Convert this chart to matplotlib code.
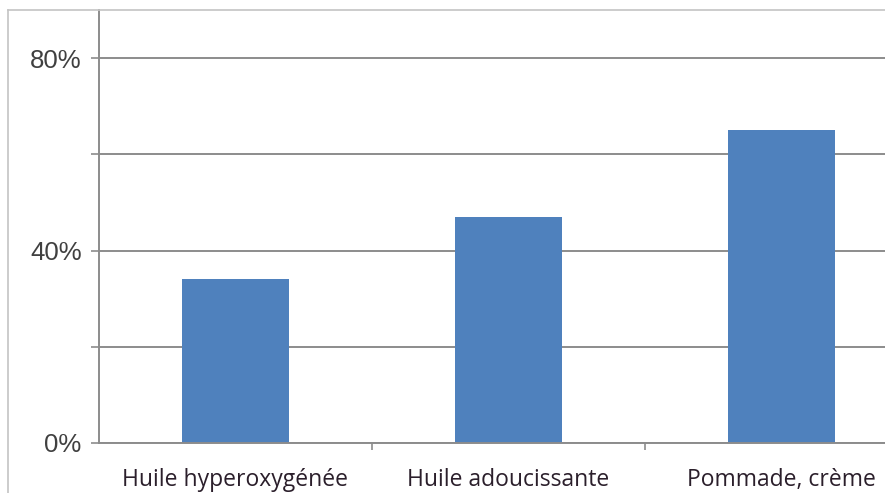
import matplotlib
matplotlib.use("Agg")
import matplotlib.pyplot as plt
from matplotlib.lines import Line2D

categories = ["Huile hyperoxygénée", "Huile adoucissante", "Pommade, crème"]
values = [34, 47, 65]
y_ticks = [0, 20, 40, 60, 80]
y_tick_labels = ["0%", "", "40%", "", "80%"]

W, H = 885, 493
fig = plt.figure(figsize=(W / 100, H / 100), dpi=100)

# plot area extends slightly past the right edge of the canvas
left_px, right_px, bottom_px, top_px = 99, 918, 443, 10
ax = fig.add_axes([left_px / W, (H - bottom_px) / H,
                   (right_px - left_px) / W, (bottom_px - top_px) / H])

xs = list(range(len(categories)))
ax.bar(xs, values, width=0.395, color="#4f81bd", zorder=3)

ax.set_xlim(-0.5, 2.5)
ax.set_ylim(0, 90)

ax.set_yticks(y_ticks)
ax.set_yticklabels(y_tick_labels)
ax.yaxis.grid(True, color="#8c8c8c", linewidth=1.4, zorder=0)
ax.tick_params(axis="y", length=5.5, width=1.2, color="#8c8c8c", pad=7,
               labelsize=18.5, labelcolor="#404040")
for t in ax.get_yticklabels():
    t.set_fontfamily("Liberation Sans")

ax.set_xticks(xs)
ax.set_xticklabels(categories)
ax.set_xticks([0.5, 1.5, 2.5], minor=True)
ax.tick_params(axis="x", which="major", length=0, pad=18,
               labelsize=16.5, labelcolor="#2b1f2b")
ax.tick_params(axis="x", which="minor", length=5, width=1.2, color="#8c8c8c",
               direction="out")
for t in ax.get_xticklabels():
    t.set_fontfamily("Open Sans")

for side in ("top", "right"):
    ax.spines[side].set_visible(False)
for side in ("left", "bottom"):
    ax.spines[side].set_color("#8c8c8c")
    ax.spines[side].set_linewidth(1.4)
    ax.spines[side].set_zorder(4)

# outer chart-area border (top and left edges)
fx, fy = 8 / W, (H - 10) / H
fig.add_artist(Line2D([fx, 1.0], [fy, fy], transform=fig.transFigure,
                      color="#c4c4c4", linewidth=1.2))
fig.add_artist(Line2D([fx, fx], [0.0, fy], transform=fig.transFigure,
                      color="#c4c4c4", linewidth=1.2))

fig.savefig("out.png", dpi=100)
